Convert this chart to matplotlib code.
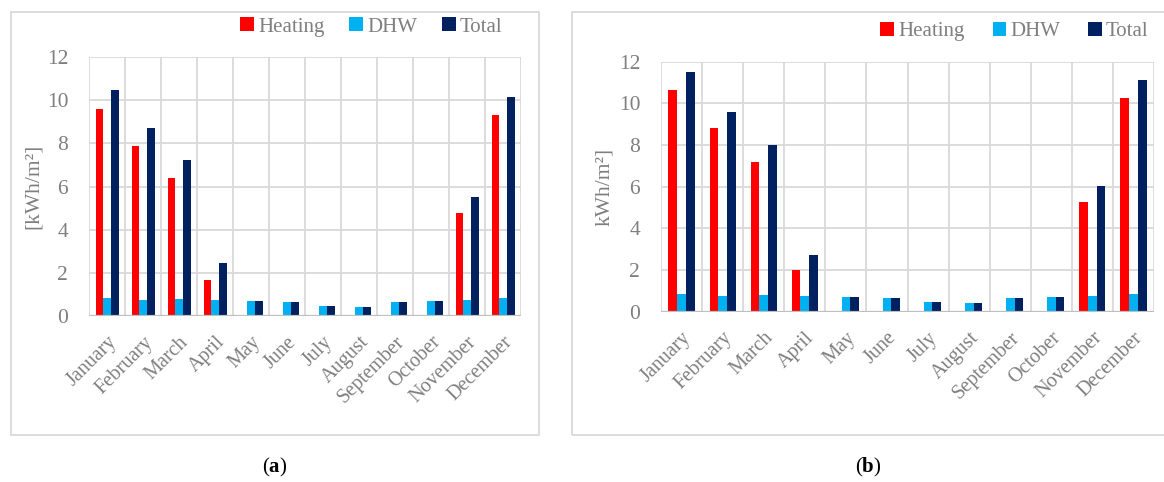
import numpy as np
import matplotlib
matplotlib.use("Agg")
import matplotlib.pyplot as plt
from matplotlib.patches import Rectangle

plt.rcParams['font.family'] = ['Liberation Serif', 'DejaVu Serif']
plt.rcParams['mathtext.fontset'] = 'custom'
plt.rcParams['mathtext.rm'] = 'Liberation Serif'
plt.rcParams['mathtext.bf'] = 'Liberation Serif:bold'

months = ['January', 'February', 'March', 'April', 'May', 'June', 'July',
          'August', 'September', 'October', 'November', 'December']
series_names = ['Heating', 'DHW', 'Total']

# case (a)
heating_a = [9.6, 7.9, 6.4, 1.68, 0, 0, 0, 0, 0, 0, 4.78, 9.32]
dhw_a = [0.84, 0.75, 0.8, 0.74, 0.71, 0.65, 0.46, 0.4, 0.65, 0.71, 0.75, 0.84]
total_a = [10.47, 8.7, 7.22, 2.45, 0.71, 0.65, 0.46, 0.4, 0.65, 0.71, 5.53, 10.17]

# case (b)
heating_b = [10.64, 8.8, 7.17, 1.98, 0, 0, 0, 0, 0, 0, 5.27, 10.25]
dhw_b = [0.85, 0.76, 0.82, 0.75, 0.72, 0.66, 0.48, 0.42, 0.66, 0.72, 0.76, 0.83]
total_b = [11.52, 9.58, 8.02, 2.74, 0.72, 0.66, 0.48, 0.42, 0.66, 0.72, 6.05, 11.1]

colors = ['#ff0000', '#00b0f0', '#002060']
grey = '#7f7f7f'
grid_col = '#d9d9d9'

fig = plt.figure(figsize=(11.64, 4.82), dpi=100)

# outer chart frames
for x0, w in [(0.0095, 0.4536), (0.4914, 0.52)]:
    fig.patches.append(Rectangle((x0, 0.0975), w, 0.8776, transform=fig.transFigure,
                                 fill=False, edgecolor=grid_col, linewidth=1.3))


def draw_panel(rect, data, ylabel, legend_xy, legend_fs, colspace, caption, caption_x):
    ax = fig.add_axes(rect)
    x = np.arange(len(months))
    bw = 0.213
    for i, (vals, name) in enumerate(zip(data, series_names)):
        ax.bar(x + (i - 1) * bw, vals, bw, color=colors[i], label=name, zorder=3)
    ax.set_xlim(-0.5, len(months) - 0.5)
    ax.set_ylim(0, 12)
    ax.set_yticks(np.arange(0, 13, 2))
    ax.set_xticks(x)
    ax.set_xticklabels(months, rotation=45, ha='right', rotation_mode='anchor',
                       fontsize=14.5, color=grey)
    # vertical lines between categories
    for b in np.arange(-0.5, len(months), 1):
        ax.axvline(b, color=grid_col, linewidth=1.3, zorder=1)
    ax.yaxis.grid(True, color=grid_col, linewidth=1.3, zorder=1)
    ax.set_axisbelow(True)
    for s in ax.spines.values():
        s.set_visible(False)
    ax.axhline(0, color='#bfbfbf', linewidth=1.6, zorder=4)
    ax.tick_params(axis='both', length=0, colors=grey)
    ax.tick_params(axis='y', labelsize=15.5, pad=15)
    ax.tick_params(axis='x', pad=12)
    ax.set_ylabel(ylabel, fontsize=15.5, color=grey, labelpad=3)
    ax.legend(loc='center', bbox_to_anchor=legend_xy, bbox_transform=fig.transFigure,
              ncol=3, frameon=False, fontsize=legend_fs, labelcolor=grey,
              handlelength=0.65, handleheight=0.65, handletextpad=0.2,
              columnspacing=colspace)
    fig.text(caption_x, 0.031, caption, ha='center', va='center', fontsize=15, color='black')
    return ax


draw_panel([0.0765, 0.3444, 0.3711, 0.5373], [heating_a, dhw_a, total_a],
           '[kWh/m²]', (0.319, 0.944), 15, 1.2, '($\\mathbf{a}$)', 0.236)
draw_panel([0.5679, 0.3533, 0.4235, 0.5187], [heating_b, dhw_b, total_b],
           'kWh/m²]', (0.8716, 0.934), 15, 1.35, '($\\mathbf{b}$)', 0.7457)

fig.savefig('out.png', dpi=100)
